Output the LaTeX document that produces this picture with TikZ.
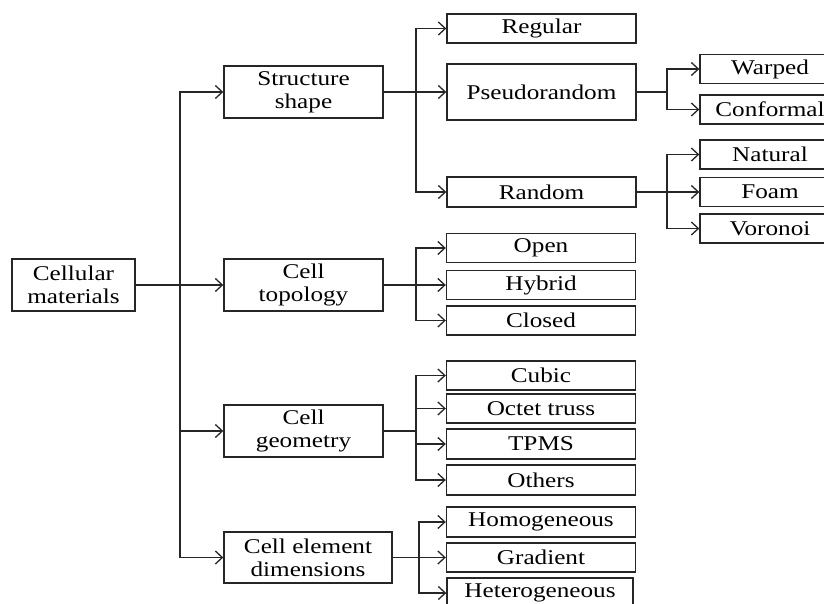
\documentclass[tikz,border=0pt]{standalone}
\usepackage{fontspec}
\setmainfont[FakeStretch=1.2]{Liberation Serif}
\usepackage{tikz}
\usetikzlibrary{arrows.meta}

\tikzset{
  box/.style={draw=black!85, line width=1.4pt, rectangle, inner sep=0pt, align=center,
    font=\fontsize{21}{23}\selectfont},
  catbox/.style={box, minimum width=159pt, minimum height=52pt},
  leafbox/.style={box, minimum width=189pt, minimum height=29pt},
  endbox/.style={box, minimum width=140pt, minimum height=29pt},
  link/.style={line width=1.3pt, draw=black!85}
}

\begin{document}
\begin{tikzpicture}[x=1pt, y=-1pt, >={Straight Barb[length=7pt,width=13pt,line width=1.3pt]}]
		\useasboundingbox (0,0) rectangle (824,604);
		\clip (0,0) rectangle (824,604);
		% root and categories
		\node [box, minimum width=123pt, minimum height=52pt] (cell) at (73.5,285) {Cellular\\materials};
		\node [catbox] (shape) at (303.5,92) {Structure\\shape};
		\node [catbox] (topo) at (303.5,285) {Cell\\topology};
		\node [catbox] (geom) at (303.5,431) {Cell\\geometry};
		\node [catbox, minimum width=168pt, minimum height=51pt] (elem) at (308,557.5) {Cell element\\dimensions};
		% structure shape
		\node [leafbox] (regular) at (541.5,28.5) {Regular};
		\node [leafbox, minimum height=56pt] (pseudo) at (541.5,92) {Pseudorandom};
		\node [leafbox, minimum height=30pt] (random) at (541.5,192) {Random};
		\node [endbox] (warped) at (770,69) {Warped};
		\node [endbox] (conformal) at (770,109.5) {Conformal};
		\node [endbox] (natural) at (770,154.5) {Natural};
		\node [endbox] (foam) at (770,192) {Foam};
		\node [endbox] (voronoi) at (770,228.5) {Voronoi};
		% cell topology
		\node [leafbox] (open) at (541,248) {Open};
		\node [leafbox] (hybrid) at (541,285) {Hybrid};
		\node [leafbox] (closed) at (541,320.5) {Closed};
		% cell geometry
		\node [leafbox] (cubic) at (541,375.5) {Cubic};
		\node [leafbox] (octet) at (541,408.5) {Octet truss};
		\node [leafbox, minimum height=30pt] (tpms) at (541,444) {TPMS};
		\node [leafbox, minimum height=30pt] (others) at (541,480) {Others};
		% cell element dimensions
		\node [leafbox, minimum height=30pt] (homog) at (541,522) {Homogeneous};
		\node [leafbox] (gradient) at (541,557.5) {Gradient};
		\node [leafbox, minimum width=186pt, minimum height=30pt] (heterog) at (540,593) {Heterogeneous};

		% junctions
		\coordinate (j0) at (180,285);
		\coordinate (j1) at (416,92);
		\coordinate (j2) at (667,92);
		\coordinate (j3) at (667,192);
		\coordinate (j4) at (416,285);
		\coordinate (j5) at (416,431);
		\coordinate (j6) at (419,557.5);

		\draw [link,->] (cell.east) -- (topo.west);
		\draw [link,->] (j0) |- (shape.west);
		\draw [link,->] (j0) |- (elem.west);
		\draw [link,->] (j0 |- geom.west) -- (geom.west);

		\draw [link,->] (shape.east) -- (pseudo.west);
		\draw [link,->] (j1) |- (regular.west);
		\draw [link,->] (j1) |- (random.west);

		\draw [link] (pseudo.east) -- (j2);
		\draw [link,->] (j2) |- (warped.west);
		\draw [link,->] (j2) |- (conformal.west);

		\draw [link,->] (random.east) -- (foam.west);
		\draw [link,->] (j3) |- (natural.west);
		\draw [link,->] (j3) |- (voronoi.west);

		\draw [link,->] (topo.east) -- (hybrid.west);
		\draw [link,->] (j4) |- (open.west);
		\draw [link,->] (j4) |- (closed.west);

		\draw [link] (geom.east) -- (j5);
		\foreach \n in {cubic,octet,tpms,others}
			\draw [link,->] (j5) |- (\n.west);

		\draw [link,->] (elem.east) -- (gradient.west);
		\draw [link,->] (j6) |- (homog.west);
		\draw [link,->] (j6) |- (heterog.west);
\end{tikzpicture}
\end{document}
